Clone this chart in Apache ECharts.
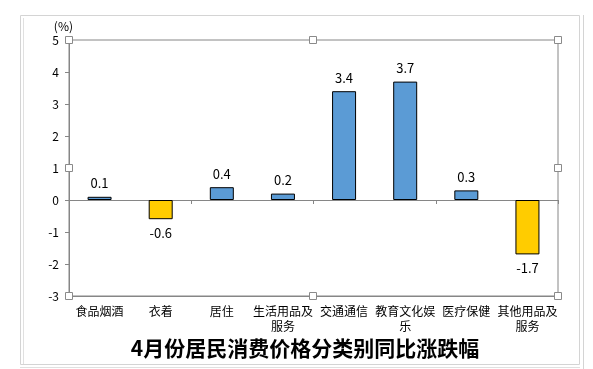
<!DOCTYPE html>
<html><head><meta charset="utf-8">
<script src="https://cdn.jsdelivr.net/npm/echarts@6/dist/echarts.min.js"></script>
<style>html,body{margin:0;padding:0;background:#fff}#c{width:593px;height:369px}</style>
</head><body><div id="c"></div>
<script>
const categories = ['食品烟酒','衣着','居住','生活用品及\n服务','交通通信','教育文化娱\n乐','医疗保健','其他用品及\n服务'];
const values = [0.1, -0.6, 0.4, 0.2, 3.4, 3.7, 0.3, -1.7];
const yTicks = [-3, 5, 1];
const titleText = '4月份居民消费价格分类别同比涨跌幅';
const posColor = '#5B9BD5', negColor = '#FFCC00';
const font = '"Noto Sans CJK SC", sans-serif';
const chart = echarts.init(document.getElementById('c'));
function handle(x, y) {
  return {type:'rect', shape:{x:x-3.5, y:y-3.5, width:7, height:7}, style:{fill:'#fff', stroke:'#8a8a8a', lineWidth:1}, z:100};
}
chart.setOption({
  animation:false,
  textStyle:{fontFamily:font},
  title:{text:titleText, left:300, textAlign:'center', top:333, textStyle:{fontSize:21, fontWeight:'bold', color:'#000', fontFamily:font}},
  grid:{left:69, right:35, top:40, bottom:73, show:true, borderColor:'#868686', borderWidth:1},
  xAxis:[
    {type:'category', data:categories, axisLine:{onZero:true, lineStyle:{color:'#868686'}},
     axisTick:{show:true, length:4, lineStyle:{color:'#868686'}}, axisLabel:{show:false}},
    {type:'category', data:categories, position:'bottom', offset:0, axisLine:{onZero:false, show:true, lineStyle:{color:'#868686'}},
     axisTick:{show:false}, axisLabel:{show:true, interval:0, color:'#000', fontSize:12, lineHeight:15, margin:8, fontFamily:font}}
  ],
  yAxis:{type:'value', min:yTicks[0], max:yTicks[1], interval:yTicks[2], name:'(%)', nameLocation:'end', nameGap:8,
    nameTextStyle:{color:'#000', fontSize:12, align:'right', padding:[0,-4,0,0]},
    axisLine:{show:true, lineStyle:{color:'#868686'}}, axisTick:{show:true, length:4, lineStyle:{color:'#868686'}},
    axisLabel:{color:'#000', fontSize:12, margin:10}, splitLine:{show:false}},
  series:[{type:'bar', xAxisIndex:0, barWidth:24,
    data:values.map(v=>({value:v, itemStyle:{color:v>=0?posColor:negColor, borderColor:'#000', borderWidth:1},
      label:{position:v>=0?'top':'bottom'}})),
    label:{show:true, color:'#000', fontSize:13, distance:7, fontFamily:font}}],
  graphic:[
    {type:'rect', shape:{x:20.5, y:15.5, width:559, height:349}, style:{fill:null, stroke:'#d4d4d4', lineWidth:1}, z:-1},
    {type:'line', shape:{x1:23.5, y1:18, x2:23.5, y2:364}, style:{stroke:'#e0e0e0', lineWidth:1}},
    {type:'line', shape:{x1:583.5, y1:15, x2:583.5, y2:369}, style:{stroke:'#d4d4d4', lineWidth:1}},
    {type:'line', shape:{x1:20, y1:367.5, x2:580, y2:367.5}, style:{stroke:'#e0e0e0', lineWidth:1}},
    handle(69,40), handle(313,40), handle(558,40),
    handle(69,168), handle(558,168),
    handle(69,296), handle(313,296), handle(558,296)
  ]
});
</script></body></html>
